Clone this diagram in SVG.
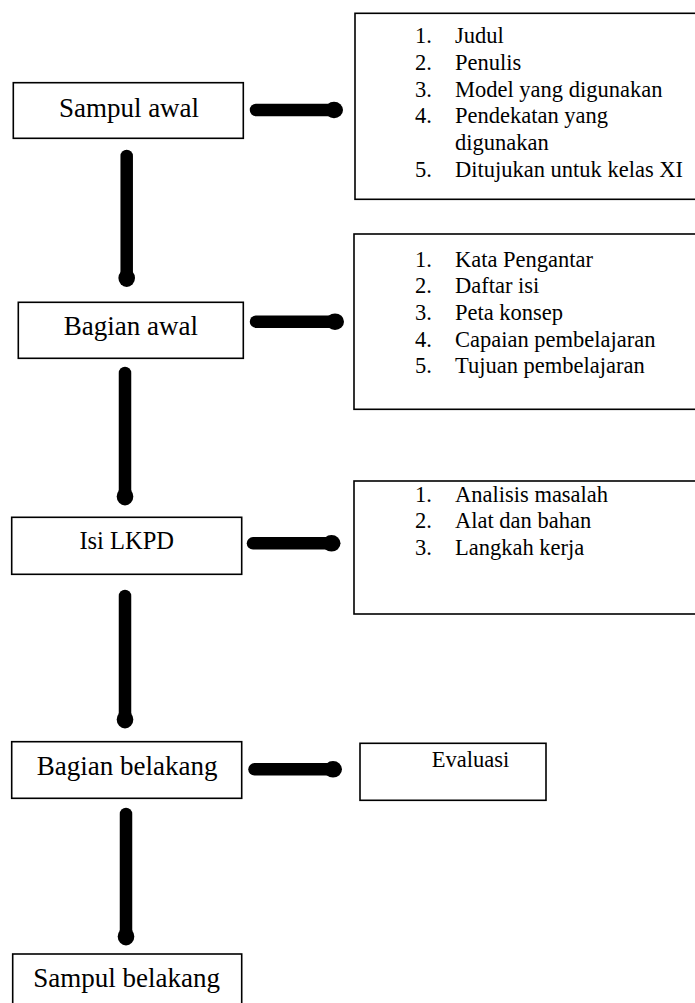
<svg xmlns="http://www.w3.org/2000/svg" width="695" height="1003" viewBox="0 0 695 1003">
<style>
.box{fill:#fff;stroke:#000;stroke-width:1.6}
.lbl{font-family:'Liberation Serif','DejaVu Serif',serif;font-size:27px;fill:#000;text-anchor:middle}
.lst{font-family:'Liberation Serif','DejaVu Serif',serif;font-size:22.5px;fill:#000}
.ln{stroke:#000;stroke-width:12.5;stroke-linecap:round;fill:none}
.hd{fill:#000}
</style>
<rect width="695" height="1003" fill="#fff"/>
<g id="connectors">
  <line class="ln" x1="256" y1="110" x2="334" y2="110"/><ellipse class="hd" cx="334" cy="110" rx="9" ry="8.3"/>
  <line class="ln" x1="256" y1="321.7" x2="335" y2="321.7"/><ellipse class="hd" cx="335" cy="321.7" rx="9" ry="8.3"/>
  <line class="ln" x1="253" y1="543.3" x2="331.5" y2="543.3"/><ellipse class="hd" cx="331.5" cy="543.3" rx="9" ry="8.3"/>
  <line class="ln" x1="254.5" y1="769.3" x2="333" y2="769.3"/><ellipse class="hd" cx="333" cy="769.3" rx="9" ry="8.3"/>
  <line class="ln" x1="126.7" y1="156" x2="126.7" y2="278"/><ellipse class="hd" cx="126.7" cy="278" rx="8.3" ry="9"/>
  <line class="ln" x1="125" y1="373" x2="125" y2="496.5"/><ellipse class="hd" cx="125" cy="496.5" rx="8.3" ry="9"/>
  <line class="ln" x1="125" y1="596" x2="125" y2="719.5"/><ellipse class="hd" cx="125" cy="719.5" rx="8.3" ry="9"/>
  <line class="ln" x1="126" y1="814" x2="126" y2="936.5"/><ellipse class="hd" cx="126" cy="936.5" rx="8.3" ry="9"/>
</g>
<g id="sampul-awal">
  <rect class="box" x="13.3" y="82.7" width="230" height="55.6"/>
  <text class="lbl" x="129" y="116.7">Sampul awal</text>
</g>
<g id="bagian-awal">
  <rect class="box" x="18.3" y="302.3" width="225" height="56"/>
  <text class="lbl" x="130.8" y="335">Bagian awal</text>
</g>
<g id="isi-lkpd">
  <rect class="box" x="11.7" y="517.3" width="230" height="57"/>
  <text class="lbl" x="126.7" y="549.3" style="font-size:24.5px">Isi LKPD</text>
</g>
<g id="bagian-belakang">
  <rect class="box" x="11.7" y="741.7" width="230" height="56.6"/>
  <text class="lbl" x="127.2" y="775">Bagian belakang</text>
</g>
<g id="sampul-belakang">
  <rect class="box" x="12.7" y="954" width="229" height="60"/>
  <text class="lbl" x="126.7" y="986.7">Sampul belakang</text>
</g>
<g id="list-sampul">
  <rect class="box" x="355" y="13.3" width="350" height="186"/>
  <text class="lst" x="415" y="43.3">1.</text><text class="lst" x="455" y="43.3">Judul</text>
  <text class="lst" x="415" y="70">2.</text><text class="lst" x="455" y="70">Penulis</text>
  <text class="lst" x="415" y="96.7">3.</text><text class="lst" x="455" y="96.7">Model yang digunakan</text>
  <text class="lst" x="415" y="123.3">4.</text><text class="lst" x="455" y="123.3">Pendekatan yang</text>
  <text class="lst" x="455" y="150">digunakan</text>
  <text class="lst" x="415" y="176.7">5.</text><text class="lst" x="455" y="176.7">Ditujukan untuk kelas XI</text>
</g>
<g id="list-awal">
  <rect class="box" x="354" y="234" width="350" height="175.3"/>
  <text class="lst" x="415" y="266.7">1.</text><text class="lst" x="455" y="266.7">Kata Pengantar</text>
  <text class="lst" x="415" y="293.3">2.</text><text class="lst" x="455" y="293.3">Daftar isi</text>
  <text class="lst" x="415" y="320">3.</text><text class="lst" x="455" y="320">Peta konsep</text>
  <text class="lst" x="415" y="346.5">4.</text><text class="lst" x="455" y="346.5">Capaian pembelajaran</text>
  <text class="lst" x="415" y="373">5.</text><text class="lst" x="455" y="373">Tujuan pembelajaran</text>
</g>
<g id="list-isi">
  <rect class="box" x="354" y="481" width="350" height="133"/>
  <text class="lst" x="415" y="501.7">1.</text><text class="lst" x="455" y="501.7">Analisis masalah</text>
  <text class="lst" x="415" y="528.3">2.</text><text class="lst" x="455" y="528.3">Alat dan bahan</text>
  <text class="lst" x="415" y="555">3.</text><text class="lst" x="455" y="555">Langkah kerja</text>
</g>
<g id="evaluasi">
  <rect class="box" x="360" y="743.3" width="186" height="57"/>
  <text class="lst" x="431.7" y="767.3">Evaluasi</text>
</g>
</svg>
